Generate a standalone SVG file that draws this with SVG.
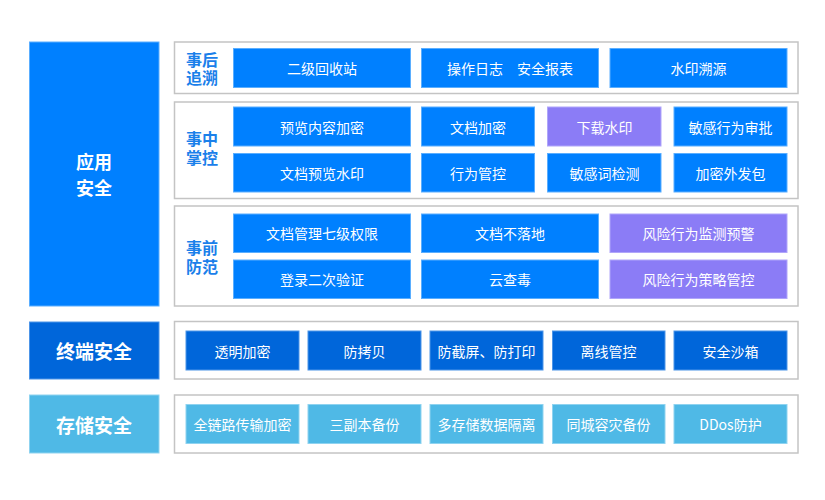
<svg xmlns="http://www.w3.org/2000/svg" width="825" height="500" viewBox="0 0 825 500">
<style>
text{font-family:"Noto Sans CJK SC","Noto Sans",sans-serif;text-anchor:middle;dominant-baseline:central}
.panel{fill:#fff;stroke:#c4c4c4;stroke-width:1.5}
.b{fill:#0080ff;stroke:#5aaeff;stroke-width:1}
.p{fill:#8b7cf6;stroke:#b0a6fa;stroke-width:1}
.d{fill:#0066da;stroke:#4d95e8;stroke-width:1}
.l{fill:#4fb9e6;stroke:#8fd3f0;stroke-width:1}
.t{fill:#fff;font-size:14px}
.h{fill:#fff;font-size:19px;font-weight:bold}
.s{fill:#1a80ea;font-size:16px;font-weight:bold}
</style>
<rect width="825" height="500" fill="#fff"/>
<g id="app">
<rect x="29.5" y="42" width="129.5" height="264" fill="#0080ff" stroke="#5aaeff"/>
<text class="h" x="94" style="font-size:18px"><tspan x="94" y="161">应用</tspan><tspan x="94" y="187">安全</tspan></text>
</g>
<g id="terminal">
<rect x="29.5" y="322" width="129.5" height="57" class="d"/>
<text class="h" x="94" y="350.5">终端安全</text>
</g>
<g id="storage">
<rect x="29.5" y="395" width="129.5" height="58" class="l"/>
<text class="h" x="94" y="424">存储安全</text>
</g>
<g id="panel-after">
<rect class="panel" x="174.5" y="42" width="623.5" height="51.5"/>
<text class="s" x="202"><tspan x="202" y="59">事后</tspan><tspan x="202" y="77">追溯</tspan></text>
<rect class="b" x="233.5" y="48.5" width="177" height="39"/><text class="t" x="322" y="68">二级回收站</text>
<rect class="b" x="421.5" y="48.5" width="177" height="39"/><text class="t" x="510" y="68" xml:space="preserve">操作日志　安全报表</text>
<rect class="b" x="610" y="48.5" width="177" height="39"/><text class="t" x="698.5" y="68">水印溯源</text>
</g>
<g id="panel-during">
<rect class="panel" x="174.5" y="102" width="623.5" height="96.5"/>
<text class="s" x="202"><tspan x="202" y="138">事中</tspan><tspan x="202" y="157">掌控</tspan></text>
<rect class="b" x="233.5" y="107" width="177" height="39"/><text class="t" x="322" y="126.5">预览内容加密</text>
<rect class="b" x="421.5" y="107" width="113" height="39"/><text class="t" x="478" y="126.5">文档加密</text>
<rect class="p" x="547.5" y="107" width="113.5" height="39"/><text class="t" x="604.5" y="126.5">下载水印</text>
<rect class="b" x="674" y="107" width="113" height="39"/><text class="t" x="730.5" y="126.5">敏感行为审批</text>
<rect class="b" x="233.5" y="153.5" width="177" height="38.5"/><text class="t" x="322" y="172.5">文档预览水印</text>
<rect class="b" x="421.5" y="153.5" width="113" height="38.5"/><text class="t" x="478" y="172.5">行为管控</text>
<rect class="b" x="547.5" y="153.5" width="113.5" height="38.5"/><text class="t" x="604.5" y="172.5">敏感词检测</text>
<rect class="b" x="674" y="153.5" width="113" height="38.5"/><text class="t" x="730.5" y="172.5">加密外发包</text>
</g>
<g id="panel-before">
<rect class="panel" x="174.5" y="206" width="623.5" height="100"/>
<text class="s" x="202"><tspan x="202" y="247">事前</tspan><tspan x="202" y="266">防范</tspan></text>
<rect class="b" x="233.5" y="214" width="177" height="38.5"/><text class="t" x="322" y="233">文档管理七级权限</text>
<rect class="b" x="421.5" y="214" width="177" height="38.5"/><text class="t" x="510" y="233">文档不落地</text>
<rect class="p" x="610" y="214" width="177" height="38.5"/><text class="t" x="698.5" y="233">风险行为监测预警</text>
<rect class="b" x="233.5" y="260" width="177" height="38.5"/><text class="t" x="322" y="279">登录二次验证</text>
<rect class="b" x="421.5" y="260" width="177" height="38.5"/><text class="t" x="510" y="279">云查毒</text>
<rect class="p" x="610" y="260" width="177" height="38.5"/><text class="t" x="698.5" y="279">风险行为策略管控</text>
</g>
<g id="panel-terminal">
<rect class="panel" x="174.5" y="321.5" width="623.5" height="57.5"/>
<rect class="d" x="186" y="331" width="113" height="39"/><text class="t" x="242.5" y="350.5">透明加密</text>
<rect class="d" x="308" y="331" width="113" height="39"/><text class="t" x="364.5" y="350.5">防拷贝</text>
<rect class="d" x="430" y="331" width="113" height="39"/><text class="t" x="486.5" y="350.5">防截屏、防打印</text>
<rect class="d" x="552.5" y="331" width="112.5" height="39"/><text class="t" x="608.5" y="350.5">离线管控</text>
<rect class="d" x="674" y="331" width="113" height="39"/><text class="t" x="730.5" y="350.5">安全沙箱</text>
</g>
<g id="panel-storage">
<rect class="panel" x="174.5" y="395" width="623.5" height="58"/>
<rect class="l" x="186" y="404.5" width="113" height="39"/><text class="t" x="242.5" y="424">全链路传输加密</text>
<rect class="l" x="308" y="404.5" width="113" height="39"/><text class="t" x="364.5" y="424">三副本备份</text>
<rect class="l" x="430" y="404.5" width="113" height="39"/><text class="t" x="486.5" y="424">多存储数据隔离</text>
<rect class="l" x="552.5" y="404.5" width="112.5" height="39"/><text class="t" x="608.5" y="424">同城容灾备份</text>
<rect class="l" x="674" y="404.5" width="113" height="39"/><text class="t" x="730.5" y="424">DDos防护</text>
</g>
<g id="connectors"></g>
</svg>
